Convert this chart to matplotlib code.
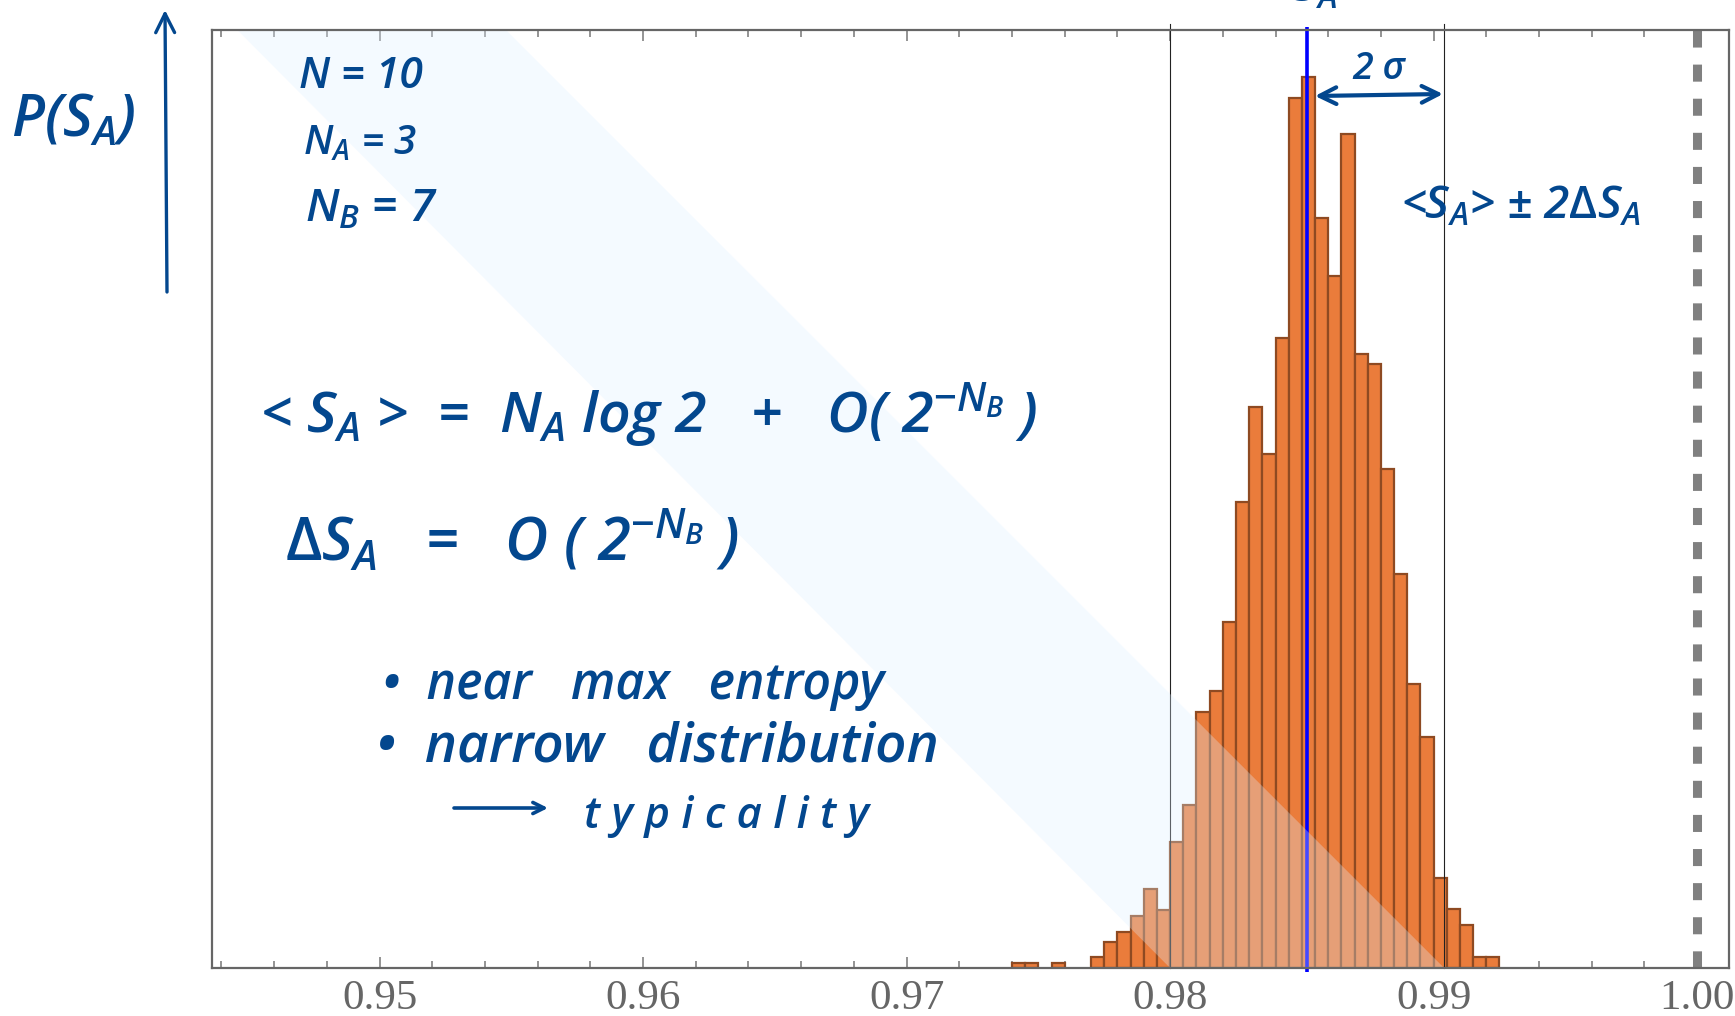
import matplotlib
matplotlib.use("Agg")
import matplotlib.pyplot as plt
import numpy as np

W, H = 1735, 1016
INK = '#03478E'

# histogram (bin left edges and heights)
bin_width = 0.0005
bin_edges = [0.9740, 0.9745, 0.9755, 0.9770, 0.9775, 0.9780, 0.9785, 0.9790, 0.9795,
             0.9800, 0.9805, 0.9810, 0.9815, 0.9820, 0.9825, 0.9830, 0.9835, 0.9840,
             0.9845, 0.9850, 0.9855, 0.9860, 0.9865, 0.9870, 0.9875, 0.9880, 0.9885,
             0.9890, 0.9895, 0.9900, 0.9905, 0.9910, 0.9915, 0.9920]
bin_heights = [5, 5, 5, 11, 26, 36, 52, 79, 58,
               126, 163, 256, 277, 346, 466, 560, 513, 629,
               869, 890, 749, 691, 833, 613, 603, 498, 394,
               284, 231, 90, 59, 43, 11, 11]

x_range = [0.94364, 1.00121]
y_range = [0, 937]
major_ticks = [0.95, 0.96, 0.97, 0.98, 0.99, 1.00]
major_labels = ['0.95', '0.96', '0.97', '0.98', '0.99', '1.00']
minor_ticks = [0.944, 0.946, 0.948, 0.952, 0.954, 0.956, 0.958, 0.962, 0.964, 0.966, 0.968,
               0.972, 0.974, 0.976, 0.978, 0.982, 0.984, 0.986, 0.988, 0.992, 0.994, 0.996, 0.998]

mean_value = 0.9852
band_limits = [0.98, 0.9904]
max_value = 1.0
band_top = [0.9446, 0.9548]

plt.rcParams['mathtext.fontset'] = 'custom'
plt.rcParams['mathtext.rm'] = 'Open Sans:semibold'
plt.rcParams['mathtext.it'] = 'Open Sans:italic:semibold'
plt.rcParams['mathtext.bf'] = 'Open Sans:bold'

fig = plt.figure(figsize=(W / 100, H / 100), dpi=100, facecolor='white')
ax = fig.add_axes([212 / W, 1 - 968 / H, (1729 - 212) / W, (968 - 30) / H])
ax.set_xlim(x_range)
ax.set_ylim(y_range)

ax.bar(bin_edges, bin_heights, width=bin_width, align='edge', color='#EA7C3B',
       edgecolor='#8E4A22', linewidth=1.6, zorder=2)

for v in band_limits:
    ax.plot([v, v], [0, 1.006], color='#222222', lw=0.8, zorder=3,
            transform=ax.get_xaxis_transform(), clip_on=False)
ax.plot([mean_value, mean_value], [-0.004, 1.003], color='#0000FF', lw=2.6, zorder=4,
        transform=ax.get_xaxis_transform(), clip_on=False, solid_capstyle='butt')
ax.plot([max_value, max_value], [1, 0], color='#808080', lw=6.5, zorder=3,
        transform=ax.get_xaxis_transform(), dashes=(17 / 9, 17 / 9), dash_capstyle='butt')

ax.fill([band_top[0], band_top[1], band_limits[1], band_limits[0]], [1, 1, 0, 0],
        transform=ax.get_xaxis_transform(), facecolor='#DEF0FF', alpha=0.31,
        edgecolor='none', zorder=5, clip_on=True)

for s in ax.spines.values():
    s.set_color('#666666')
    s.set_linewidth(1.6)
    s.set_zorder(6)
ax.set_yticks([])
ax.set_xticks(major_ticks)
ax.set_xticklabels(major_labels, family='Liberation Serif', fontsize=31, color='#666666')
ax.set_xticks(minor_ticks, minor=True)
ax.tick_params(axis='x', which='major', direction='in', top=True, length=8, width=1.1,
               color='#777777', pad=8)
ax.tick_params(axis='x', which='minor', direction='in', top=True, length=5, width=1.1,
               color='#777777')

renderer = fig.canvas.get_renderer()


def note(s, x0, x1, yc, weight='semibold', bottom=False):
    """Handwritten note: text sized to a pixel width, centred on a pixel height."""
    t = fig.text(x0 / W, 1 - yc / H, s, color=INK, family='Open Sans', fontsize=20,
                 ha='left', va='bottom', style='italic', weight=weight, zorder=10)
    e = t.get_window_extent(renderer)
    t.set_fontsize(20 * (x1 - x0) / e.width)
    e = t.get_window_extent(renderer)
    shift = (e.y0 if bottom else (e.y0 + e.y1) / 2) - (H - yc)
    t.set_y(1 - yc / H - shift / H)
    return t


note(r'P(S$_A$)', 11, 138, 122)
note('N = 10', 299, 423, 77)
note(r'N$_A$ = 3', 303, 418, 144)
note(r'N$_B$ = 7', 305, 439, 210)
note(r'< S$_A$ >  =  N$_A$ log 2   +   O( 2$^{-N_B}$ )', 260, 1040, 414)
note(r'$\Delta$S$_A$   =   O ( 2$^{-N_B}$ )', 285, 741, 542)
note('•  near   max   entropy', 382, 885, 686)
note('•  narrow   distribution', 376, 940, 747)
note('t y p i c a l i t y', 584, 869, 817)
note(r'<S$_A$> ± 2$\Delta$S$_A$', 1401, 1642, 207)
note('2 σ', 1352, 1405, 69)
note(r'<S$_A$>', 1268, 1366, 12, bottom=True)


def arrow(x0, y0, x1, y1, style='->', scale=22, lw=2.4):
    ax.annotate('', xy=(x1 / W, 1 - y1 / H), xytext=(x0 / W, 1 - y0 / H),
                xycoords='figure fraction', textcoords='figure fraction',
                arrowprops=dict(arrowstyle=style, color=INK, lw=lw, mutation_scale=scale,
                                shrinkA=0, shrinkB=0), annotation_clip=False, zorder=10)


arrow(167, 292, 165, 10, lw=2.4, scale=34)
arrow(1315, 96, 1443, 94, style='<->', scale=30, lw=3)
arrow(454, 808, 548, 808, scale=20, lw=2.6)

fig.savefig('out.png', dpi=100, facecolor='white')
